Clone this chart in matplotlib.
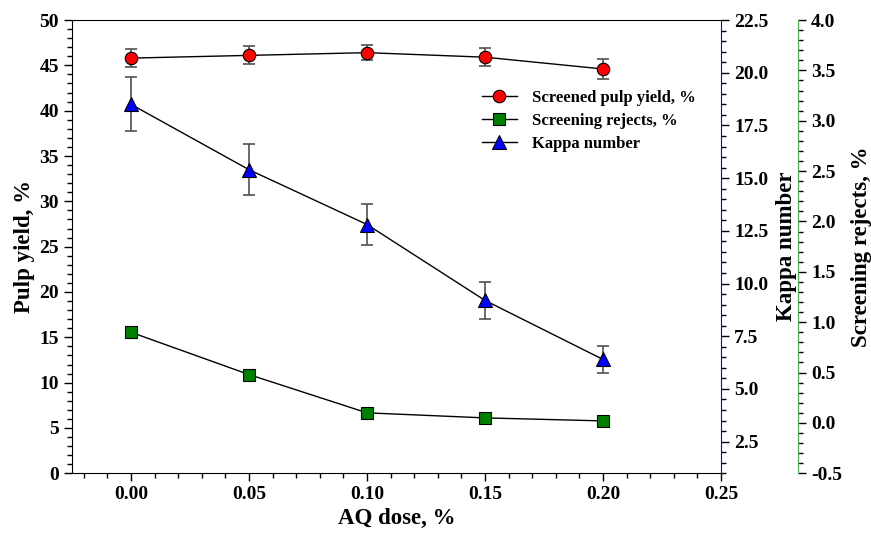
import matplotlib
matplotlib.use("Agg")
import matplotlib.pyplot as plt
from matplotlib.ticker import MultipleLocator, FormatStrFormatter

plt.rcParams["font.family"] = ["Liberation Serif", "DejaVu Serif"]
plt.rcParams["font.weight"] = "bold"

# AQ dose, %
aq_dose = [0.00, 0.05, 0.10, 0.15, 0.20]
# screened pulp yield, % (left axis)
pulp_yield = [45.8, 46.1, 46.4, 45.9, 44.6]
pulp_yield_err = [1.0, 1.0, 0.85, 1.0, 1.15]
# kappa number (first right axis)
kappa = [18.5, 15.4, 12.8, 9.2, 6.4]
kappa_err = [1.28, 1.22, 0.97, 0.86, 0.65]
# screening rejects, % (second right axis)
rejects = [0.90, 0.48, 0.10, 0.05, 0.02]

fig = plt.figure(figsize=(8.71, 5.34), dpi=100)
ax = fig.add_axes([0.0827, 0.1137, 0.7451, 0.8488])
ax2 = ax.twinx()
ax3 = ax.twinx()

err_color = "#505050"
tick_fs = 14
lab_fs = 16.5

# yield
ax.errorbar(aq_dose, pulp_yield, yerr=pulp_yield_err, fmt="none",
            ecolor=err_color, elinewidth=1.2, capsize=4, capthick=1.2)
l1, = ax.plot(aq_dose, pulp_yield, "-", color="black", lw=1,
              marker="o", ms=9, mfc="red", mec="black", mew=0.8,
              label="Screened pulp yield, %")

# rejects
l2, = ax3.plot(aq_dose, rejects, "-", color="black", lw=1,
               marker="s", ms=8, mfc="#008000", mec="black", mew=0.8,
               label="Screening rejects, %")

# kappa
ax2.errorbar(aq_dose, kappa, yerr=kappa_err, fmt="none",
             ecolor=err_color, elinewidth=1.2, capsize=4, capthick=1.2)
l3, = ax2.plot(aq_dose, kappa, "-", color="black", lw=1,
               marker="^", ms=10, mfc="blue", mec="black", mew=0.8,
               label="Kappa number")

# x axis
ax.set_xlim(-0.025, 0.25)
ax.xaxis.set_major_locator(MultipleLocator(0.05))
ax.xaxis.set_minor_locator(MultipleLocator(0.01))
ax.xaxis.set_major_formatter(FormatStrFormatter("%.2f"))
ax.set_xlabel("AQ dose, %", fontsize=lab_fs, fontweight="bold", labelpad=3)

# left axis
ax.set_ylim(0, 50)
ax.yaxis.set_major_locator(MultipleLocator(5))
ax.yaxis.set_minor_locator(MultipleLocator(1))
ax.set_ylabel("Pulp yield, %", fontsize=lab_fs, fontweight="bold", labelpad=3)
ax.spines["right"].set_visible(False)

# kappa axis
ax2.set_ylim(1.0, 22.5)
ax2.yaxis.set_minor_locator(MultipleLocator(0.5))
ax2.set_yticks([2.5 * i for i in range(1, 10)])
ax2.yaxis.set_major_formatter(FormatStrFormatter("%.1f"))
ax2.set_ylabel("Kappa number", fontsize=lab_fs, fontweight="bold", labelpad=5)
for s in ["top", "left", "bottom"]:
    ax2.spines[s].set_visible(False)
ax2.spines["right"].set_color("blue")

# rejects axis
ax3.set_ylim(-0.5, 4.0)
ax3.yaxis.set_major_locator(MultipleLocator(0.5))
ax3.yaxis.set_minor_locator(MultipleLocator(0.1))
ax3.yaxis.set_major_formatter(FormatStrFormatter("%.1f"))
ax3.spines["right"].set_position(("axes", 1.1186))
ax3.spines["right"].set_color("#4caf50")
for s in ["top", "left", "bottom"]:
    ax3.spines[s].set_visible(False)
ax3.set_ylabel("Screening rejects, %", fontsize=lab_fs, fontweight="bold", labelpad=6)

for a in (ax, ax2, ax3):
    a.tick_params(which="major", direction="out", length=6, width=1,
                  labelsize=tick_fs, colors="black")
    a.tick_params(which="minor", direction="out", length=3.5, width=1,
                  colors="black")
    for lab in a.get_xticklabels() + a.get_yticklabels():
        lab.set_fontweight("bold")

leg = ax.legend(handles=[l1, l2, l3], loc="upper left",
                bbox_to_anchor=(0.608, 0.878), frameon=False,
                prop={"size": 12, "weight": "bold"}, handlelength=2.1,
                handletextpad=0.9, labelspacing=0.42)

fig.savefig("out.png", dpi=100)
